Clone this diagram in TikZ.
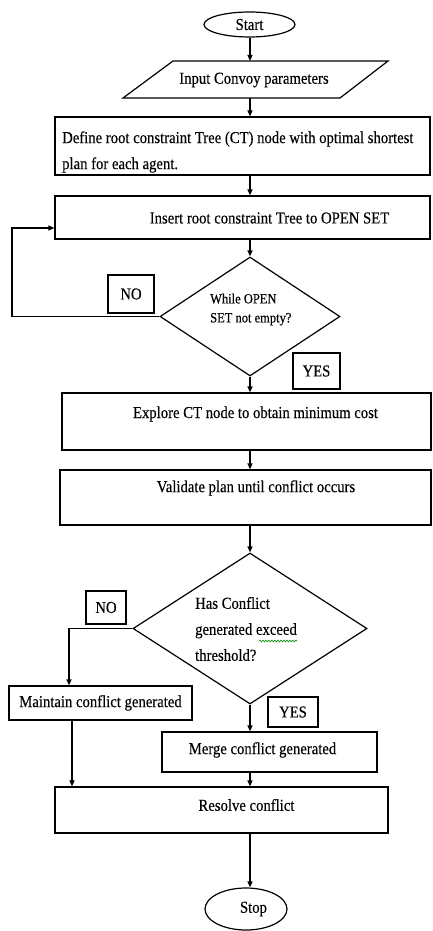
\documentclass[tikz,border=0pt]{standalone}
\usepackage{fontspec}
\setmainfont[FakeStretch=0.88,FakeBold=0.3]{Liberation Serif}
\usetikzlibrary{shapes.geometric,arrows.meta,decorations.pathmorphing}
\begin{document}
\begin{tikzpicture}[x=1pt,y=-1pt,
  every node/.style={font=\fontsize{16.7}{18}\selectfont, inner sep=0pt},
  box/.style={draw, line width=1.2pt, rectangle, inner sep=0pt},
  ell/.style={draw, line width=1.2pt, ellipse, inner sep=0pt},
  dia/.style={draw, line width=1.2pt, diamond, inner sep=0pt},
  arr/.style={line width=1.2pt, -{Triangle[length=6pt,width=5pt]}},
  ln/.style={line width=1.2pt}]
\useasboundingbox (0,0) rectangle (432,931);
\coordinate (axis) at (250,0);
% start
\node[ell, minimum width=91pt, minimum height=25pt] (start) at (249.5,24.5) {Start};
% parallelogram
\coordinate (pa) at (173,61);
\coordinate (pb) at (388,61);
\coordinate (pc) at (340,98);
\coordinate (pd) at (123,98);
\draw[ln] (pa) -- (pb) -- (pc) -- (pd) -- cycle;
\node (inp) at (254,80) {Input Convoy parameters};
% define
\node[box, minimum width=375pt, minimum height=58pt] (def) at (242.5,146) {};
\node[anchor=west, align=left, font=\fontsize{16.7}{26}\selectfont] (tdef) at (62,152) {Define root constraint Tree (CT) node with optimal shortest\\plan for each agent.};
% insert
\node[box, minimum width=375pt, minimum height=43pt] (ins) at (242.5,217.5) {};
\node (tins) at (269.5,218) {Insert root constraint Tree to OPEN SET};
% diamond 1
\node[dia, minimum width=180pt, minimum height=119pt] (d1) at (250,316.5) {};
\node[anchor=west, align=left, font=\fontsize{14.2}{19}\selectfont] (td1) at (210,309.5) {While OPEN\\SET not empty?};
\node[box, minimum width=46pt, minimum height=38pt] (no1) at (131,294) {NO};
\node[box, minimum width=47pt, minimum height=36pt] (yes1) at (316.5,371) {YES};
% explore
\node[box, minimum width=369pt, minimum height=57pt] (exp) at (246.5,421.5) {};
\node (texp) at (255.5,414) {Explore CT node to obtain minimum cost};
% validate
\node[box, minimum width=371pt, minimum height=55pt] (val) at (245.5,497.5) {};
\node (tval) at (256,488) {Validate plan until conflict occurs};
% diamond 2
\node[dia, minimum width=234pt, minimum height=151pt] (d2) at (250,628.5) {};
\node[anchor=west, align=left, font=\fontsize{16.7}{26}\selectfont] (td2) at (195,629) {Has Conflict\\generated exceed\\threshold?};
\draw[green!55!black, line width=0.6pt, decorate, decoration={snake, amplitude=0.9pt, segment length=3pt}] (259,641) -- (297,641);
\node[box, minimum width=40pt, minimum height=33pt] (no2) at (106,607.5) {NO};
\node[box, minimum width=50pt, minimum height=30pt] (yes2) at (293,712) {YES};
% maintain / merge / resolve
\node[box, minimum width=183pt, minimum height=34pt] (mnt) at (100.5,703) {Maintain conflict generated};
\node[box, minimum width=215pt, minimum height=40pt] (mrg) at (269.5,752) {};
\node (tmrg) at (262.5,750) {Merge conflict generated};
\node[box, minimum width=333pt, minimum height=46pt] (res) at (221.5,810) {};
\node (tres) at (246.5,805) {Resolve conflict};
% stop
\node[ell, minimum width=82pt, minimum height=42pt] (stop) at (246,909) {};
\node (tstop) at (253.5,909) {Stop};
% connectors
\coordinate (loopx) at (12,228);
\coordinate (nox) at (69,0);
\coordinate (mx) at (72,0);
\draw[arr] (start.south -| axis) -- (pa -| axis);
\draw[arr] (pd -| axis) -- (def.north -| axis);
\draw[arr] (def.south -| axis) -- (ins.north -| axis);
\draw[arr] (ins.south -| axis) -- (d1.north);
\draw[arr] (d1.west) -| (loopx) -- (loopx -| ins.west);
\draw[arr] (d1.south) -- (exp.north -| axis);
\draw[arr] (exp.south -| axis) -- (val.north -| axis);
\draw[arr] (val.south -| axis) -- (d2.north);
\draw[arr] (d2.west) -| (mnt.north -| nox);
\draw[arr] (d2.south) -- (mrg.north -| axis);
\draw[arr] (mrg.south -| axis) -- (res.north -| axis);
\draw[arr] (mnt.south -| mx) -- (res.north -| mx);
\draw[arr] (res.south -| axis) -- (stop.north -| axis);
\end{tikzpicture}
\end{document}
